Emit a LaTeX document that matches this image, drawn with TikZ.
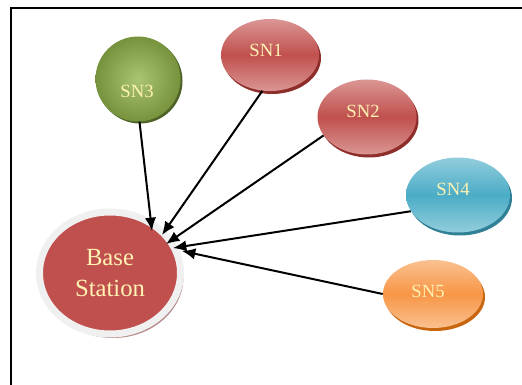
\documentclass[tikz,border=0pt]{standalone}
\usepackage{fontspec}
\setmainfont{Liberation Serif}
\usetikzlibrary{shapes.geometric,arrows.meta,shadows}
\definecolor{snred}{HTML}{C0504D}
\definecolor{snredl}{HTML}{DA9694}
\definecolor{snreds}{HTML}{8E2E2B}
\definecolor{sngreen}{HTML}{9BBB59}
\definecolor{sngreeno}{HTML}{76923C}
\definecolor{sngreens}{HTML}{4F6228}
\definecolor{snblue}{HTML}{4BACC6}
\definecolor{snbluel}{HTML}{92CDDC}
\definecolor{snblues}{HTML}{2F7F95}
\definecolor{snorange}{HTML}{F79646}
\definecolor{snorangel}{HTML}{FAC090}
\definecolor{snoranges}{HTML}{C8650F}
\definecolor{sntxt}{HTML}{FFF2B3}
\definecolor{ringgray}{HTML}{F0F0F0}
\definecolor{ringshadow}{HTML}{B88A8A}
\colorlet{sntext}{sntxt}
\tikzset{
  snnode/.style={ellipse, inner sep=0pt},
  snlabel/.style={text=sntext, font=\fontsize{14}{16}\selectfont, inner sep=0pt},
  link/.style={line width=1.5pt, -{Latex[length=10pt,width=8.5pt]}},
  frameline/.style={line width=1pt}
}
\begin{document}
\begin{tikzpicture}[x=0.75pt,y=-0.75pt]
\useasboundingbox (0,0) rectangle (522,385);
\draw[frameline] (11,385) -- (11,8) -- (522,8);

% nodes
\node[snnode, minimum width=105.75pt, minimum height=91.5pt,
      fill=snred, draw=ringgray, line width=5.25pt,
      drop shadow={shadow xshift=2.25pt, shadow yshift=-3pt, fill=ringshadow, opacity=1},
      text=sntext, align=center, font=\fontsize{18.5}{23}\selectfont]
      (bs) at (110,273) {Base\\Station};

\node[circle, inner sep=0pt, minimum size=63.75pt, inner color=sngreen!85!white, outer color=sngreeno,
      drop shadow={shadow xshift=1.5pt, shadow yshift=-1.5pt, fill=sngreens, opacity=1}]
      (sn3) at (138,79) {};
\node[snnode, minimum width=73.5pt, minimum height=54pt,
      top color=snredl, bottom color=snredl, middle color=snred,
      drop shadow={shadow xshift=1.5pt, shadow yshift=-2.25pt, fill=snreds, opacity=1}]
      (sn1) at (270,55) {};
\node[snnode, minimum width=74.25pt, minimum height=56.25pt,
      top color=snredl, bottom color=snredl, middle color=snred,
      drop shadow={shadow xshift=1.5pt, shadow yshift=-2.25pt, fill=snreds, opacity=1}]
      (sn2) at (367,117) {};
\node[snnode, minimum width=78pt, minimum height=56.25pt,
      top color=snbluel, bottom color=snbluel, middle color=snblue,
      drop shadow={shadow xshift=1.5pt, shadow yshift=-2.25pt, fill=snblues, opacity=1}]
      (sn4) at (458,195) {};
\node[snnode, minimum width=75pt, minimum height=51pt,
      top color=snorangel, bottom color=snorangel, middle color=snorange,
      drop shadow={shadow xshift=1.5pt, shadow yshift=-2.25pt, fill=snoranges, opacity=1}]
      (sn5) at (433,294) {};

% labels
\node[snlabel] (l1) at (266,50) {SN1};
\node[snlabel] (l2) at (363,111) {SN2};
\node[snlabel] (l3) at (137,91) {SN3};
\node[snlabel] (l4) at (453,189) {SN4};
\node[snlabel] (l5) at (428,291) {SN5};

% arrow targets
\coordinate (t3) at (152,231);
\coordinate (t1) at (162,235);
\coordinate (t2) at (166,244);
\coordinate (t4) at (173,248);
\coordinate (t5) at (182,251);

\draw[link] (sn3.272) -- (t3);
\draw[link] (sn1.258) -- (t1);
\draw[link] (sn2.203) -- (t2);
\draw[link] (sn4.199) -- (t4);
\draw[link] (sn5.west) -- (t5);
\end{tikzpicture}
\end{document}
